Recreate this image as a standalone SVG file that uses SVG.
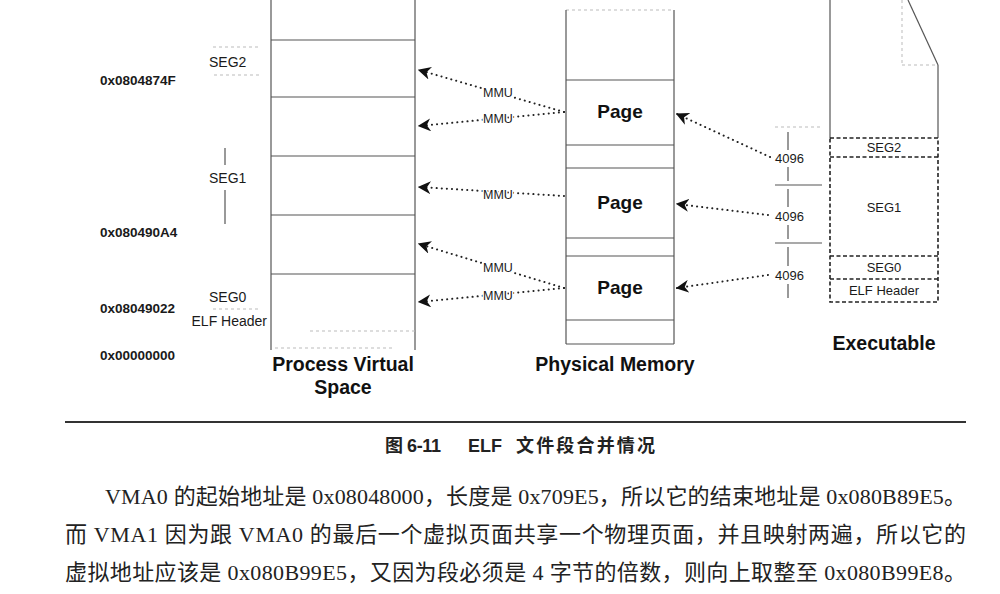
<svg xmlns="http://www.w3.org/2000/svg" width="1000" height="594" viewBox="0 0 1000 594">
<defs>
<style>
.ln{stroke:#555;stroke-width:1.2;fill:none}
.fa{stroke:#bbb;stroke-width:1;fill:none;stroke-dasharray:3 3}
.dash{stroke:#222;stroke-width:1.6;fill:none;stroke-dasharray:4 2.5}
.dot{stroke:#222;stroke-width:2;fill:none;stroke-dasharray:0.1 5;stroke-linecap:round}
.addr{font-family:"Liberation Sans",Arial,sans-serif;font-weight:bold;font-size:13.5px;fill:#1a1a1a}
.lab{font-family:"Liberation Sans",Arial,sans-serif;font-size:14px;fill:#1a1a1a}
.sm{font-family:"Liberation Sans",Arial,sans-serif;font-size:13px;fill:#1a1a1a}
.mmu{font-family:"Liberation Sans",Arial,sans-serif;font-size:12.5px;fill:#1a1a1a;stroke:#fff;stroke-width:3;paint-order:stroke}
.page{font-family:"Liberation Sans",Arial,sans-serif;font-weight:bold;font-size:19px;fill:#111;text-anchor:middle}
.title{font-family:"Liberation Sans",Arial,sans-serif;font-weight:bold;font-size:19.5px;fill:#111;text-anchor:middle}
.cap{font-family:"Liberation Sans","Noto Sans CJK SC",sans-serif;font-weight:bold;font-size:18px;fill:#222}
.para{font-family:"Liberation Serif","Noto Sans CJK SC",serif;font-size:22px;fill:#222}
</style>
<marker id="ah" viewBox="0 0 10 10" refX="9" refY="5" markerWidth="13" markerHeight="13" markerUnits="userSpaceOnUse" orient="auto">
<path d="M10,5 L0,0 L3,5 L0,10 Z" fill="#111"/>
</marker>
</defs>

<g id="process-virtual-space">
<line class="ln" x1="271" y1="0" x2="271" y2="350"/>
<line class="ln" x1="415" y1="0" x2="415" y2="350"/>
<line class="ln" x1="271" y1="40" x2="415" y2="40"/>
<line class="ln" x1="271" y1="97" x2="415" y2="97"/>
<line class="ln" x1="271" y1="156" x2="415" y2="156"/>
<line class="ln" x1="271" y1="215" x2="415" y2="215"/>
<line class="ln" x1="271" y1="274" x2="415" y2="274"/>
<line class="fa" x1="310" y1="331" x2="415" y2="331"/>
<line class="fa" x1="275" y1="348" x2="395" y2="348"/>
<text class="title" x="343" y="371">Process Virtual</text>
<text class="title" x="343" y="394">Space</text>
</g>

<g id="address-labels">
<text class="addr" x="100" y="85">0x0804874F</text>
<text class="addr" x="100" y="237">0x080490A4</text>
<text class="addr" x="100" y="313">0x08049022</text>
<text class="addr" x="100" y="360">0x00000000</text>
</g>

<g id="segment-labels">
<line class="fa" x1="213" y1="47" x2="258" y2="47"/>
<text class="lab" x="209" y="67">SEG2</text>
<line class="fa" x1="214" y1="75" x2="259" y2="75"/>
<line class="ln" x1="225" y1="148" x2="225" y2="165"/>
<text class="lab" x="209" y="183">SEG1</text>
<line class="ln" x1="225" y1="190" x2="225" y2="224"/>
<text class="lab" x="209" y="302">SEG0</text>
<line class="fa" x1="213" y1="309" x2="258" y2="309"/>
<text class="lab" x="267" y="326" text-anchor="end">ELF Header</text>
</g>

<g id="physical-memory">
<line class="fa" x1="566" y1="10" x2="674" y2="10"/>
<line class="ln" x1="566" y1="10" x2="566" y2="344"/>
<line class="ln" x1="674" y1="10" x2="674" y2="344"/>
<line class="ln" x1="566" y1="80" x2="674" y2="80"/>
<line class="ln" x1="566" y1="145" x2="674" y2="145"/>
<line class="ln" x1="566" y1="168" x2="674" y2="168"/>
<line class="ln" x1="566" y1="238" x2="674" y2="238"/>
<line class="ln" x1="566" y1="256" x2="674" y2="256"/>
<line class="ln" x1="566" y1="320" x2="674" y2="320"/>
<line class="ln" x1="566" y1="344" x2="674" y2="344" stroke="#999"/>
<text class="page" x="620" y="118">Page</text>
<text class="page" x="620" y="209">Page</text>
<text class="page" x="620" y="294">Page</text>
<text class="title" x="615" y="371">Physical Memory</text>
</g>

<g id="executable">
<line class="ln" x1="830" y1="0" x2="830" y2="138"/>
<line class="ln" x1="908" y1="0" x2="938" y2="65"/>
<line class="ln" x1="938" y1="65" x2="938" y2="138"/>
<line class="fa" x1="902" y1="0" x2="902" y2="65"/>
<line class="fa" x1="902" y1="65" x2="938" y2="65"/>
<rect class="dash" x="830" y="138" width="108" height="164"/>
<line class="dash" x1="830" y1="157" x2="938" y2="157"/>
<line class="dash" x1="830" y1="256" x2="938" y2="256"/>
<line class="dash" x1="830" y1="279" x2="938" y2="279"/>
<text class="sm" x="884" y="152" text-anchor="middle">SEG2</text>
<text class="sm" x="884" y="212" text-anchor="middle">SEG1</text>
<text class="sm" x="884" y="272" text-anchor="middle">SEG0</text>
<text class="sm" x="884" y="295" text-anchor="middle">ELF Header</text>
<text class="title" x="884" y="350">Executable</text>
</g>

<g id="page-size-dimensions">
<line class="fa" x1="775" y1="127" x2="820" y2="127"/>
<line class="ln" x1="775" y1="185" x2="822" y2="185" stroke="#888"/>
<line class="ln" x1="775" y1="243" x2="822" y2="243" stroke="#888"/>
<line class="ln" x1="788" y1="132" x2="788" y2="150" stroke="#888"/>
<line class="ln" x1="788" y1="167" x2="788" y2="181" stroke="#888"/>
<line class="ln" x1="788" y1="189" x2="788" y2="207" stroke="#888"/>
<line class="ln" x1="788" y1="225" x2="788" y2="239" stroke="#888"/>
<line class="ln" x1="788" y1="247" x2="788" y2="266" stroke="#888"/>
<line class="ln" x1="788" y1="284" x2="788" y2="298" stroke="#888"/>
<text class="sm" x="775" y="163">4096</text>
<text class="sm" x="775" y="221">4096</text>
<text class="sm" x="775" y="280">4096</text>
</g>

<g id="connectors">
<path class="dot" d="M564,112 L419,70" marker-end="url(#ah)"/>
<path class="dot" d="M564,112 L419,126" marker-end="url(#ah)"/>
<path class="dot" d="M564,196 L419,187" marker-end="url(#ah)"/>
<path class="dot" d="M564,288 L419,244" marker-end="url(#ah)"/>
<path class="dot" d="M564,288 L419,302" marker-end="url(#ah)"/>
<path class="dot" d="M770,157 L677,114" marker-end="url(#ah)"/>
<path class="dot" d="M768,215 L677,204" marker-end="url(#ah)"/>
<path class="dot" d="M768,275 L677,288" marker-end="url(#ah)"/>
<text class="mmu" x="483" y="97">MMU</text>
<text class="mmu" x="483" y="123">MMU</text>
<text class="mmu" x="483" y="199">MMU</text>
<text class="mmu" x="483" y="272">MMU</text>
<text class="mmu" x="483" y="300">MMU</text>
</g>

<g id="caption">
<line x1="65" y1="422" x2="966" y2="422" stroke="#333" stroke-width="2"/>
<text class="cap" y="452"><tspan x="385">图</tspan><tspan x="407" textLength="34">6-11</tspan><tspan x="468">ELF</tspan><tspan x="516" textLength="139">文件段合并情况</tspan></text>
</g>

<g id="body-text">
<text class="para" x="105" y="504" textLength="861">VMA0 的起始地址是 0x08048000，长度是 0x709E5，所以它的结束地址是 0x080B89E5。</text>
<text class="para" x="65" y="542" textLength="901">而 VMA1 因为跟 VMA0 的最后一个虚拟页面共享一个物理页面，并且映射两遍，所以它的</text>
<text class="para" x="65" y="580" textLength="901">虚拟地址应该是 0x080B99E5，又因为段必须是 4 字节的倍数，则向上取整至 0x080B99E8。</text>
</g>
</svg>
